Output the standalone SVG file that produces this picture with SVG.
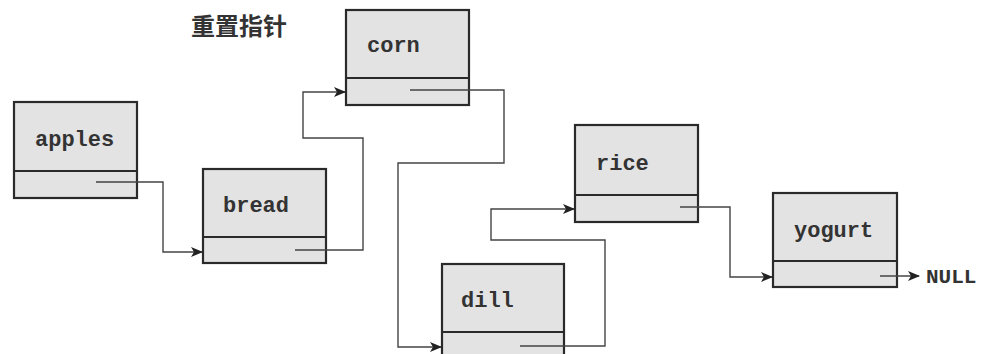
<svg xmlns="http://www.w3.org/2000/svg" width="985" height="354" viewBox="0 0 985 354">
<defs>
<marker id="arr" markerWidth="12" markerHeight="10" refX="11" refY="5" orient="auto" markerUnits="userSpaceOnUse">
<path d="M0,0 L12,5 L0,10 L3,5 Z" fill="#222"/>
</marker>
</defs>
<style>
.box{fill:#e3e3e3;stroke:#2a2a2a;stroke-width:2.2}
.div{stroke:#2a2a2a;stroke-width:2}
.ptr{fill:none;stroke:#444;stroke-width:1.4}
.lbl{font-family:"Liberation Mono","DejaVu Sans Mono",monospace;font-weight:bold;font-size:22px;fill:#333}
.null{font-family:"Liberation Mono","DejaVu Sans Mono",monospace;font-weight:bold;font-size:21px;fill:#333}
.title{font-family:"Noto Sans CJK SC","Noto Sans CJK JP",sans-serif;font-weight:bold;font-size:24px;fill:#333}
</style>
<rect width="985" height="354" fill="#ffffff"/>
<text class="title" x="191" y="35">重置指针</text>
<g id="apples">
<rect class="box" x="14" y="102" width="123" height="96"/>
<line class="div" x1="14" y1="171" x2="137" y2="171"/>
<text class="lbl" x="35" y="146">apples</text>
</g>
<g id="bread">
<rect class="box" x="203" y="169" width="123" height="94"/>
<line class="div" x1="203" y1="237" x2="326" y2="237"/>
<text class="lbl" x="223" y="212">bread</text>
</g>
<g id="corn">
<rect class="box" x="346" y="10" width="123" height="95"/>
<line class="div" x1="346" y1="78" x2="469" y2="78"/>
<text class="lbl" x="367" y="52">corn</text>
</g>
<g id="dill">
<rect class="box" x="442" y="264" width="122" height="100"/>
<line class="div" x1="442" y1="332" x2="564" y2="332"/>
<text class="lbl" x="461" y="307">dill</text>
</g>
<g id="rice">
<rect class="box" x="575" y="125" width="123" height="97"/>
<line class="div" x1="575" y1="195" x2="698" y2="195"/>
<text class="lbl" x="596" y="170">rice</text>
</g>
<g id="yogurt">
<rect class="box" x="773" y="193" width="124" height="94"/>
<line class="div" x1="773" y1="261" x2="897" y2="261"/>
<text class="lbl" x="794" y="237">yogurt</text>
</g>
<g id="connectors">
<polyline class="ptr" points="96,182 163,182 163,252 202,252" marker-end="url(#arr)"/>
<polyline class="ptr" points="295,250 363,250 363,138 303,138 303,92 345,92" marker-end="url(#arr)"/>
<polyline class="ptr" points="410,90 504,90 504,163 398,163 398,347 441,347" marker-end="url(#arr)"/>
<polyline class="ptr" points="520,346 605,346 605,240 491,240 491,209 574,209" marker-end="url(#arr)"/>
<polyline class="ptr" points="680,207 730,207 730,277 772,277" marker-end="url(#arr)"/>
<polyline class="ptr" points="880,276 919,276" marker-end="url(#arr)"/>
</g>
<text id="null" class="null" x="926" y="283">NULL</text>
</svg>
